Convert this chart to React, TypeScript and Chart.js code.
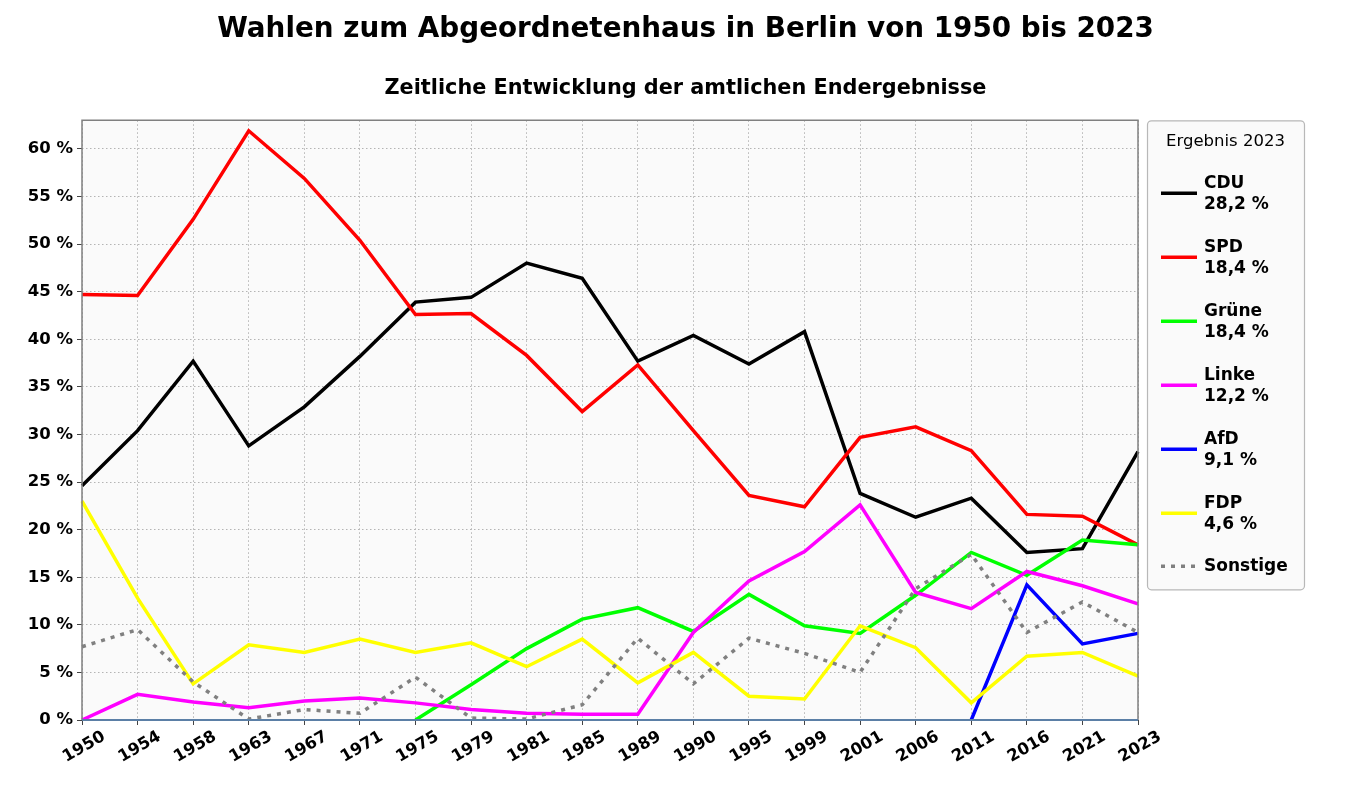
import React, { useEffect, useRef } from "react";
import { Chart, registerables } from "chart.js";

Chart.register(...registerables);

const years = ["1950","1954","1958","1963","1967","1971","1975","1979","1981","1985","1989","1990","1995","1999","2001","2006","2011","2016","2021","2023"];

const cdu = [24.6,30.4,37.7,28.8,32.9,38.2,43.9,44.4,48.0,46.4,37.7,40.4,37.4,40.8,23.8,21.3,23.3,17.6,18.0,28.2];
const spd = [44.7,44.6,52.6,61.9,56.9,50.4,42.6,42.7,38.3,32.4,37.3,30.4,23.6,22.4,29.7,30.8,28.3,21.6,21.4,18.4];
const gruene = [null,null,null,null,null,null,0,3.7,7.5,10.6,11.8,9.3,13.2,9.9,9.1,13.1,17.6,15.2,18.9,18.4];
const linke = [0,2.7,1.9,1.3,2.0,2.3,1.8,1.1,0.7,0.6,0.6,9.2,14.6,17.7,22.6,13.4,11.7,15.6,14.1,12.2];
const afd = [null,null,null,null,null,null,null,null,null,null,null,null,null,null,null,null,0,14.2,8.0,9.1];
const fdp = [23.0,12.8,3.8,7.9,7.1,8.5,7.1,8.1,5.6,8.5,3.9,7.1,2.5,2.2,9.9,7.6,1.8,6.7,7.1,4.6];
const sonstige = [7.7,9.5,4.0,0.1,1.1,0.7,4.5,0.2,0.1,1.6,8.6,3.8,8.6,7.0,5.0,13.8,17.4,9.2,12.4,9.2];

const seriesNames = ["CDU","SPD","Grüne","Linke","AfD","FDP","Sonstige"];
const legendResults = ["28,2 %","18,4 %","18,4 %","12,2 %","9,1 %","4,6 %",""];
const seriesColors = ["#000000","#ff0000","#00ff00","#ff00ff","#0000ff","#ffff00","#808080"];
const seriesData = [cdu, spd, gruene, linke, afd, fdp, sonstige];

const titleText = "Wahlen zum Abgeordnetenhaus in Berlin von 1950 bis 2023";
const subtitleText = "Zeitliche Entwicklung der amtlichen Endergebnisse";
const legendTitle = "Ergebnis 2023";

const FONT = "'DejaVu Sans', sans-serif";

const bgPlugin = {
  id: "plotBg",
  beforeDraw(chart: any) {
    const { ctx, chartArea: a } = chart;
    ctx.save();
    ctx.fillStyle = "#fafafa";
    ctx.fillRect(a.left, a.top, a.right - a.left, a.bottom - a.top);
    ctx.restore();
  },
  afterDraw(chart: any) {
    const { ctx, chartArea: a } = chart;
    ctx.save();
    ctx.strokeStyle = "#808080";
    ctx.lineWidth = 1.5;
    ctx.beginPath();
    ctx.moveTo(a.left, a.bottom);
    ctx.lineTo(a.left, a.top);
    ctx.lineTo(a.right, a.top);
    ctx.lineTo(a.right, a.bottom);
    ctx.stroke();
    ctx.strokeStyle = "#5b7fa6";
    ctx.lineWidth = 2;
    ctx.beginPath();
    ctx.moveTo(a.left, a.bottom);
    ctx.lineTo(a.right, a.bottom);
    ctx.stroke();

    // legend
    const bx = a.right + 9;
    const by = a.top;
    const bw = 157;
    const bh = 469;
    ctx.fillStyle = "#fafafa";
    ctx.strokeStyle = "#b8b8b8";
    ctx.lineWidth = 1.2;
    ctx.beginPath();
    (ctx as any).roundRect(bx + 0.5, by + 0.5, bw, bh, 4);
    ctx.fill();
    ctx.stroke();
    ctx.fillStyle = "#000";
    ctx.textAlign = "center";
    ctx.textBaseline = "middle";
    ctx.font = `16.5px ${FONT}`;
    ctx.fillText(legendTitle, bx + bw / 2, by + 21);
    const ys = [73, 137, 201, 265, 329, 393, 446];
    for (let i = 0; i < seriesNames.length; i++) {
      const ly = by + ys[i];
      ctx.strokeStyle = seriesColors[i];
      ctx.lineWidth = 3.5;
      ctx.setLineDash(i === 6 ? [4, 6] : []);
      ctx.beginPath();
      ctx.moveTo(bx + 14, ly);
      ctx.lineTo(bx + 50, ly);
      ctx.stroke();
      ctx.setLineDash([]);
      ctx.fillStyle = "#000";
      ctx.textAlign = "left";
      ctx.font = `bold 17px ${FONT}`;
      if (legendResults[i]) {
        ctx.fillText(seriesNames[i], bx + 57, ly - 10);
        ctx.fillText(legendResults[i], bx + 57, ly + 11);
      } else {
        ctx.fillText(seriesNames[i], bx + 57, ly);
      }
    }
    ctx.restore();
  },
};

export default function App() {
  const ref = useRef<HTMLCanvasElement>(null);
  useEffect(() => {
    document.body.style.margin = "0";
    const canvas = ref.current!;
    const datasets = seriesData.map((d, i) => ({
      label: seriesNames[i],
      data: d,
      borderColor: seriesColors[i],
      backgroundColor: seriesColors[i],
      borderWidth: 3.5,
      borderDash: i === 6 ? [4, 6] : [],
      pointRadius: 0,
      pointHoverRadius: 0,
      tension: 0,
      fill: false,
      order: 6 - i,
      yAxisID: "y",
    }));
    const chart = new Chart(canvas, {
      type: "line",
      data: { labels: years, datasets: datasets as any },
      plugins: [bgPlugin],
      options: {
        animation: false,
        responsive: false,
        devicePixelRatio: 1,
        layout: { padding: 0 },
        plugins: {
          legend: { display: false },
          tooltip: { enabled: false },
          title: {
            display: true,
            text: titleText,
            color: "#000",
            font: { family: FONT, size: 27.8, weight: "bold", lineHeight: 1.2 },
            padding: { top: 13, bottom: 30 },
          },
          subtitle: {
            display: true,
            text: subtitleText,
            color: "#000",
            font: { family: FONT, size: 20.8, weight: "bold", lineHeight: 1.2 },
            padding: { top: 0, bottom: 19 },
          },
        },
        scales: {
          x: {
            type: "category",
            offset: false,
            afterFit: (s: any) => { s.height = 80; },
            grid: {
              display: true,
              drawOnChartArea: true,
              color: "#b4b4b4",
              lineWidth: 1,
              tickLength: 5,
              tickColor: "#444",
              tickBorderDash: [],
              tickWidth: 1,
            } as any,
            border: { display: false, dash: [1.5, 2.5] },
            ticks: {
              autoSkip: false,
              minRotation: 30,
              maxRotation: 30,
              padding: 2,
              labelOffset: 22,
              color: "#000",
              font: { family: FONT, size: 16.5, weight: "bold" },
            },
          },
          y: {
            type: "linear",
            position: "left",
            min: 0,
            max: 63,
            afterFit: (s: any) => { s.width = 82; },
            afterBuildTicks: (s: any) => {
              s.ticks = s.ticks.filter((t: any) => t.value % 5 === 0);
            },
            grid: {
              color: "#b4b4b4",
              lineWidth: 1,
              tickLength: 5,
              tickColor: "#444",
              tickBorderDash: [],
            } as any,
            border: { display: false, dash: [1.5, 2.5] },
            ticks: {
              stepSize: 5,
              padding: 4,
              color: "#000",
              font: { family: FONT, size: 16.5, weight: "bold" },
              callback: (v: any) => `${v} %`,
            },
          },
          y2: {
            type: "linear",
            position: "right",
            min: 0,
            max: 63,
            afterFit: (s: any) => { s.width = 233; },
            grid: { display: false, drawOnChartArea: false },
            border: { display: false },
            ticks: { display: false },
          },
        },
      },
    });
    return () => chart.destroy();
  }, []);
  return <canvas ref={ref} width={1371} height={800} style={{ display: "block" }} />;
}
